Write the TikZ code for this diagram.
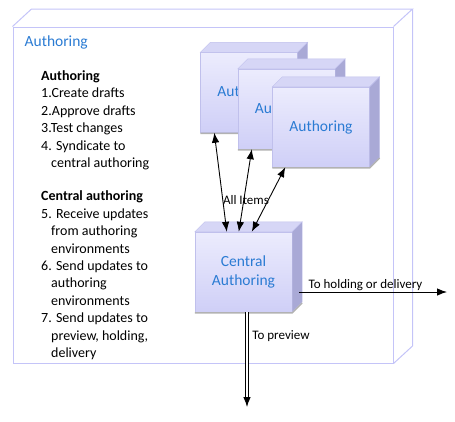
\documentclass[tikz,border=0pt]{standalone}
\usepackage{fontspec}
\setmainfont{Carlito}
\usetikzlibrary{arrows.meta}

\definecolor{frameline}{HTML}{C4C4F8}
\definecolor{boxtop}{HTML}{D6D6F6}
\definecolor{boxside}{HTML}{A9A9D6}
\definecolor{boxlight}{HTML}{ECECFD}
\definecolor{boxdark}{HTML}{CFCFF7}
\definecolor{boxedge}{HTML}{C0C0EC}
\definecolor{labelblue}{HTML}{2A7BD3}

\begin{document}
\begin{tikzpicture}[
		x=1pt, y=-1pt,
		frame/.style={
			rectangle,
			draw=frameline,
			line width=1pt,
			minimum width=380pt,
			minimum height=336pt,
			inner sep=0pt
		},
		cube/.style={
			rectangle,
			draw=boxedge,
			top color=boxlight,
			bottom color=boxdark,
			minimum width=97pt,
			minimum height=80pt,
			align=center,
			text=labelblue,
			font=\fontsize{15.5}{18.5}\selectfont
		},
		arrow/.style={
			line width=0.9pt,
			{Latex[length=10pt,width=7.5pt]}-{Latex[length=10pt,width=7.5pt]},
		},
		outarrow/.style={
			line width=0.9pt,
			-{Latex[length=10pt,width=7.5pt]},
		},
		label/.style={
			font=\fontsize{13}{15}\selectfont,
			inner sep=1pt
		}
	]
	\useasboundingbox (0,0) rectangle (455,421);
	
	% outer box
	\node[frame] (frame) at (203,195) {};
	\draw[frameline, line width=1pt] (frame.north west) -- ++(19,-17.5) -- ([shift={(19pt,17.5pt)}]frame.north east) -- (frame.north east);
	\draw[frameline, line width=1pt] ([shift={(19pt,17.5pt)}]frame.north east) -- ([shift={(19pt,17.5pt)}]frame.south east) -- (frame.south east);
	\node[anchor=west, inner sep=0pt, text=labelblue, font=\fontsize{15.5}{18.5}\selectfont] (title) at ([shift={(12pt,-16pt)}]frame.north west) {Authoring};
	
	\node[anchor=north west, inner sep=0pt, align=left, font=\fontsize{14}{17.4}\selectfont] (steps) at (41,70.5) {%
		\textbf{Authoring}\\
		1.Create drafts\\
		2.Approve drafts\\
		3.Test changes\\
		4. Syndicate to\\
		\hspace*{10pt}central authoring\\[16pt]
		\textbf{Central authoring}\\
		5. Receive updates\\
		\hspace*{10pt}from authoring\\
		\hspace*{10pt}environments\\
		6. Send updates to\\
		\hspace*{10pt}authoring\\
		\hspace*{10pt}environments\\
		7. Send updates to\\
		\hspace*{10pt}preview, holding,\\
		\hspace*{10pt}delivery};
	
	% the cubes
	\foreach \name/\pos/\txt in {auth1/{249,92.5}/Authoring, auth2/{286.5,109}/Authoring, auth3/{321,127}/Authoring, central/{243.5,272}/{Central\\Authoring}} {
		\node[cube] (\name) at (\pos) {\txt};
		\filldraw[fill=boxtop, draw=boxedge] (\name.north west) -- ++(10,-10) -- ([shift={(10pt,10pt)}]\name.north east) -- (\name.north east) -- cycle;
		\filldraw[fill=boxside, draw=boxedge] (\name.north east) -- ++(10,-10) -- ([shift={(10pt,10pt)}]\name.south east) -- (\name.south east) -- cycle;
		\draw[gray!60, line width=1.5pt] ([yshift=-0.75pt]\name.south west) -- ([yshift=-0.75pt]\name.south east) -- ([shift={(10pt,9.25pt)}]\name.south east);
	}
	
	\node[label] (items) at (246,200) {All Items};
	
	\draw[arrow] ([xshift=32pt]central.north west) -- ([xshift=14pt]auth1.south west);
	\draw[arrow] ([xshift=44pt]central.north west) -- ([xshift=14pt]auth2.south west);
	\draw[arrow] ([xshift=57pt]central.north west) -- ([xshift=13pt]auth3.south west);
	
	\coordinate (holding) at (447,292);
	\coordinate (preview) at (247,407);
	\draw[outarrow] ([shift={(7pt,-20pt)}]central.east) -- (holding) node[label, pos=0, anchor=south west, xshift=8pt] {To holding or delivery};
	\draw[outarrow, double, double distance=2.5pt] ([xshift=3.5pt]central.south) -- (preview) node[label, pos=0.25, right, xshift=4pt] {To preview};
	
\end{tikzpicture}
\end{document}
